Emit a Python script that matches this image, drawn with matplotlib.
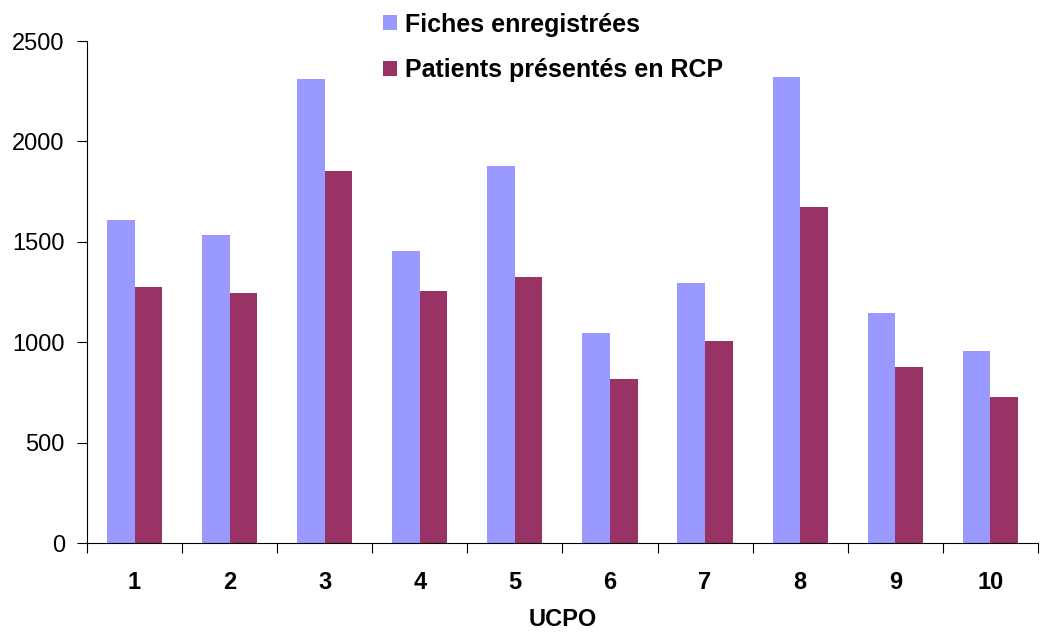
import matplotlib
matplotlib.use("Agg")
import matplotlib.pyplot as plt
import numpy as np

plt.rcParams['font.family'] = ['Liberation Sans', 'DejaVu Sans']

categories = ["1", "2", "3", "4", "5", "6", "7", "8", "9", "10"]
fiches = [1610, 1535, 2310, 1455, 1880, 1045, 1295, 2320, 1145, 955]
patients = [1275, 1245, 1853, 1255, 1325, 817, 1006, 1673, 876, 727]
series_names = ["Fiches enregistrées", "Patients présentés en RCP"]
y_ticks = [0, 500, 1000, 1500, 2000, 2500]

blue = "#9999FF"
plum = "#993366"

fig = plt.figure(figsize=(10.42, 6.32), dpi=100)
ax = fig.add_axes([0.0835, 0.1408, 0.9125, 0.7943])

x = np.arange(len(categories))
w = 0.29
b1 = ax.bar(x - w / 2, fiches, width=w, color=blue, label=series_names[0])
b2 = ax.bar(x + w / 2, patients, width=w, color=plum, label=series_names[1])

ax.set_xlim(-0.5, len(categories) - 0.5)
ax.set_ylim(0, 2500)
ax.set_yticks(y_ticks)
ax.set_yticklabels([str(v) for v in y_ticks], fontsize=17)

# category labels centred, tick marks on group boundaries
ax.set_xticks(x)
ax.set_xticklabels(categories, fontsize=17, fontweight='bold')
ax.tick_params(axis='x', length=0, pad=20)
ax.set_xticks(np.arange(-0.5, len(categories), 1.0), minor=True)
ax.tick_params(axis='x', which='minor', length=7, direction='out', width=0.8)
ax.tick_params(axis='y', length=7, direction='out', width=0.8, pad=9)

for s in ("top", "right"):
    ax.spines[s].set_visible(False)
for s in ("left", "bottom"):
    ax.spines[s].set_linewidth(0.8)

ax.set_xlabel("UCPO", fontsize=17, fontweight='bold', labelpad=10)

fig.legend(handles=[b1, b2], loc="upper left", bbox_to_anchor=(0.3676, 0.98),
           frameon=False, prop={'size': 18, 'weight': 'bold'},
           borderaxespad=0, borderpad=0,
           handlelength=0.56, handleheight=0.56, handletextpad=0.33,
           labelspacing=0.86)

fig.savefig("out.png", dpi=100)
